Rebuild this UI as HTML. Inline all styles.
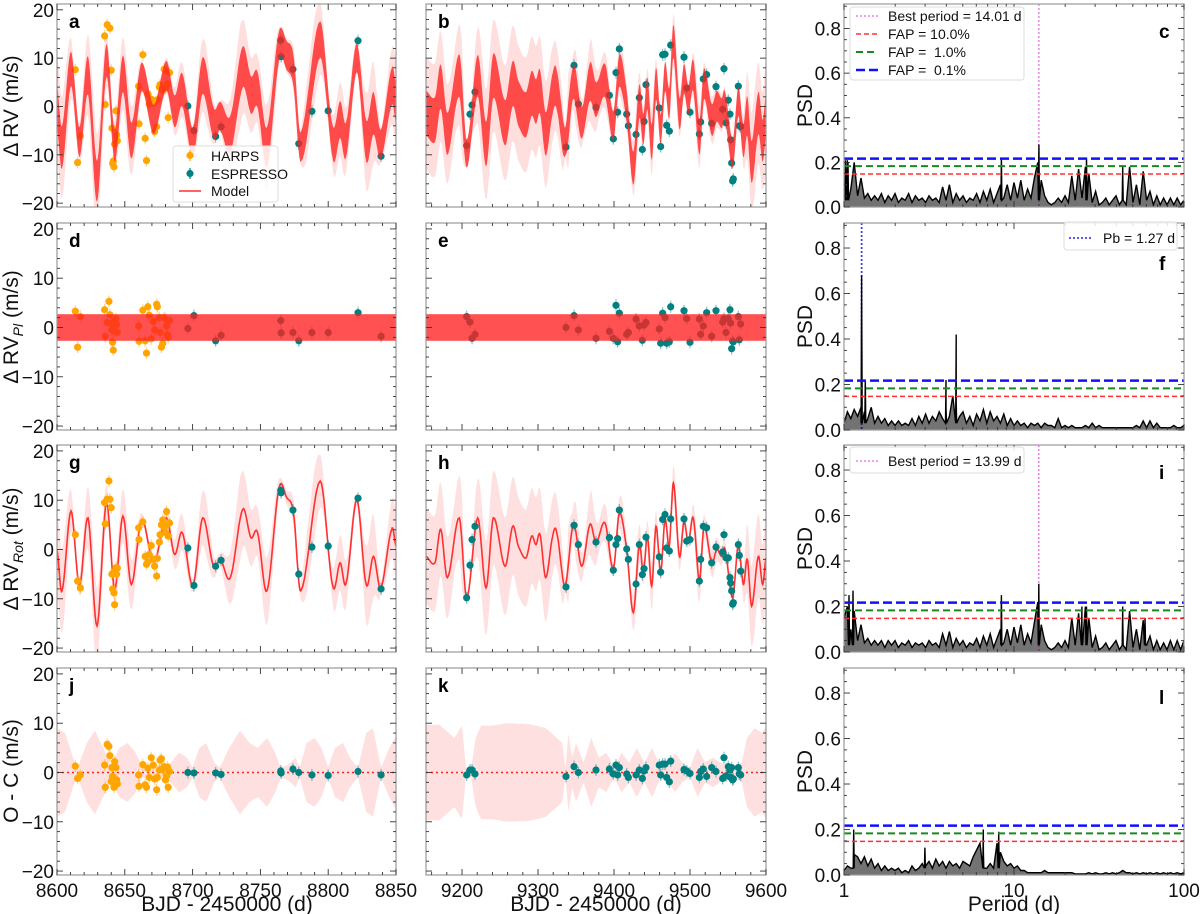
<!DOCTYPE html>
<html><head><meta charset="utf-8">
<style>
html,body{margin:0;padding:0;background:#fff;}
svg{display:block;font-family:"Liberation Sans",sans-serif;}
text{white-space:pre;}
</style></head>
<body>
<svg id="fig" width="1200" height="914" viewBox="0 0 1200 914" xmlns="http://www.w3.org/2000/svg"></svg>
<script>
// ---------- DATA ----------
const rot1T=[8600,8603.7,8610.3,8616.5,8622.9,8629.5,8636.4,8642.5,8648.6,8654.8,8662.4,8671.3,8680.6,8686.7,8692.4,8700.2,8707.4,8715.5,8720.4,8727.8,8736.9,8743,8747.9,8754.8,8763.6,8769.5,8774.4,8779.8,8794.1,8803.4,8808.8,8813.2,8821.1,8828,8833.4,8838.8,8846.9,8850];
const rot1V=[0,-8.4,7.8,-7.4,6.4,-15.5,9.5,-8.1,6.8,-7.1,6.1,-2.7,6.4,-1,3.4,-7.4,6.4,-3.4,-2,-5.7,8.1,2.4,3.4,-8.4,12.2,10.5,7.4,-8.4,13.9,-7.4,-2.7,-6.8,10.1,-7.1,-1.4,-7.8,4.1,0.7];
const rot2T=[9152.6,9164.5,9172,9180.7,9196.5,9206.1,9220.6,9231.6,9241.2,9256.6,9266.7,9274,9284.2,9291.7,9297.4,9302.6,9310.1,9319.3,9324.6,9335.5,9346.5,9357.5,9368.4,9376.3,9388.2,9399.1,9407,9416.7,9425.4,9433.3,9438.6,9443.9,9449.6,9455.3,9461.4,9467.1,9472.8,9478.1,9486,9492.1,9497.8,9504.4,9512.3,9518.4,9528.5,9535.1,9541.7,9546,9556.1,9563.6,9570.2,9575.4,9581.1,9589.9,9595.6,9600];
const rot2V=[-1.4,-2.7,4.1,-5.7,6.4,-9.8,6.4,-7.8,6.4,-3.4,4.7,0.7,-1.7,2.7,1,3,-5.7,2.7,3.4,-7.4,5.1,-3.4,5.1,1.4,5.4,-4,7.4,0,-12.8,1,-4.7,2.7,-7.4,4.7,-4.7,6.1,0.7,13.5,-1.4,5.7,1.4,6.4,-6.4,4.7,-2.7,0,-1.4,0,-9.8,1,-7.1,-2,-11.5,-1.4,-7.1,-1.7];
const band1T=[8600,8606,8613,8616,8622,8628,8634,8640,8646,8652,8658,8663,8670,8678,8684,8690,8696,8700,8705,8710,8716,8720,8727,8735,8742,8748,8755,8761,8765,8770,8776,8779,8784,8790,8795,8800,8805,8811,8816,8822,8828,8833,8839,8845,8850];
const band1W=[9,8,2,1.5,6,8.5,5,1.5,5,6,4,1,1.5,1.5,2,4,3,1,5,6,2,1,5,8.5,6,5,7,4,1,1.5,3,1,6,7,5,1,5,6,3,1,8,9,1,5,7.5];
const band2T=[9153,9170,9190,9200,9205,9212,9218,9225,9240,9260,9290,9310,9325,9332,9336,9340,9345,9350,9360,9370,9380,9390,9400,9410,9420,9430,9440,9450,9460,9470,9480,9490,9500,9510,9520,9530,9540,9550,9560,9568,9575,9585,9595,9600];
const band2W=[9.7,9.7,7,9.5,1,1,7,9.5,9.5,10,9.8,9,7,6,0.5,8,3,6,2,7,3,4,1,4,2,5,2,5,1.5,1.5,4,2,1,5,2,3,2,1.5,1,2,7,9,8,9.5];
const plAmp=2.7;
const harpsT=[8613.5,8615.2,8617.2,8635.1,8635.6,8637,8638.3,8639,8640,8640.5,8641,8641.5,8642,8642.5,8643.5,8644,8644.5,8660.2,8660.5,8663.3,8665,8666,8667,8668,8669.5,8671,8672,8673.5,8674,8675.5,8676,8677,8678,8679,8680,8680.8,8681.5,8682,8683];
const harpsRot=[3,-6.4,-7.8,9.5,5.2,10.2,13.9,10.2,8.5,-5,-8,-4.7,-8.8,-11.2,-3.7,-5,-3.8,4.4,2,5.6,-1.4,-3,-2.5,-1,0.8,-2,-3.4,-5.4,-1.8,1.5,3,5,6,4.5,3.4,7.7,5.1,2.7,5.4];
const harpsPl=[3.3,-4,2.2,3.6,-1.8,1,5.3,2.6,0.8,-0.5,-3,-4.6,-0.7,1.2,1.8,0.6,-1,0.3,-2.8,3.5,-2.7,-5.2,4.2,2.5,-2.3,1.2,-0.5,4.7,4.2,2,-1,-4,-3.2,2,1.8,0.3,-1.5,-2,1.4];
const harpsRes=[1.3,-1.2,-0.5,1.5,-3,5.7,5.3,3.4,-1.8,1,-0.8,-2,-3,2.2,1,-1.5,-2.3,-0.5,-2.8,1.6,-2.5,-3,0.9,-1,3,1.5,-1.3,-3.5,-1,0.5,2.5,2.8,0.6,1.2,-1.5,-0.7,1.1,-3,0.2];
const esp1T=[8696.5,8701,8717,8721,8765,8765.3,8774,8778.3,8788,8800,8822,8839];
const esp1Rot=[0.3,-7.3,-3.4,-2.2,12,11.5,8,-5,0.5,0.7,10.4,-8];
const esp1Pl=[-0.2,2.4,-2.7,-1.6,1.4,-1.1,-1,-2.7,-1,-1,3,-1.8];
const esp1Res=[0,-0.1,-0.1,-0.4,0.3,-0.1,0.7,0,-0.5,-0.6,0.2,-0.5];
const esp2T=[9206.1,9210.5,9213.2,9217.1,9336.8,9347.4,9353.1,9376.3,9393.9,9399.1,9402.6,9404.8,9407,9416.7,9418.9,9429,9433.3,9437.3,9439.5,9442.1,9459.6,9461.4,9464,9467.1,9469.3,9472.8,9474.6,9492.1,9495.6,9500,9512.3,9514,9517.5,9521.9,9528.5,9534.2,9543,9544.7,9547.4,9550.4,9552.6,9553.5,9554.8,9556.1,9557,9563.6,9564.9,9566.7];
const esp2Rot=[-9.8,-3.2,2,4.7,-7.6,4.9,1,1.5,2.4,-4.2,1,2.2,8,0.1,-2,-7,1,-5.1,-3.9,2.5,-1.5,-4.6,6.1,7.1,0.3,-0.3,6.2,6.2,1.7,2,-6.4,-2,4.7,4.4,-2.7,0.5,-0.5,3,-1.7,-1.7,-5.7,-6.8,-8.4,-11.1,-10.8,1,-1.2,-4.4];
const esp2Pl=[2.2,1.1,-2.2,-1.4,0,2.4,-0.5,-2.2,-0.8,-2.2,4.5,-2.9,2.9,-1.4,-1,1.7,0.3,-2.6,0.5,1,-0.3,-3.2,2.9,2,-3.2,-2.9,4.2,3.4,1.8,-3,1.7,-1.4,0.3,3,-1.8,3.4,1.1,1.8,-1,1.8,3.6,0.9,-4.3,-2.8,-2.9,2.2,-2.5,0.7];
const esp2Res=[-0.5,0.5,0.5,-0.3,-0.8,1.2,0,0.5,0.7,-0.3,1.5,-0.5,1,-0.3,-1,-0.5,0.5,-1.2,0.3,1,1.5,-0.5,1.7,1.7,-1,-1.9,2.3,0.6,0.3,-0.2,-1,0.2,0.7,-0.8,1,0.2,-1.2,3,-0.7,1.2,0.5,-1,1,-1.5,-1.3,1,-0.3,-0.5];
const psdC=[0.12,0.21,0.08,0.20,0.05,0.13,0.04,0.06,0.03,0.05,0.03,0.06,0.02,0.05,0.03,0.06,0.02,0.04,0.03,0.06,0.02,0.05,0.03,0.04,0.02,0.05,0.03,0.04,0.02,0.09,0.03,0.10,0.02,0.06,0.03,0.05,0.02,0.04,0.03,0.06,0.02,0.07,0.03,0.08,0.02,0.06,0.10,0.04,0.10,0.03,0.11,0.04,0.12,0.03,0.08,0.04,0.13,0.20,0.12,0.05,0.02,0.01,0.02,0.04,0.02,0.05,0.02,0.14,0.03,0.17,0.04,0.18,0.15,0.02,0.07,0.01,0.02,0.04,0.01,0.03,0.05,0.01,0.13,0.01,0.18,0.02,0.10,0.01,0.16,0.03,0.07,0.01,0.05,0.01,0.04,0.01,0.04,0.01,0.04,0.01,0.03];
const peaksCP=[1.02,1.055,8.43,14.01,26.7,43.6];
const peaksCV=[0.21,0.20,0.22,0.28,0.22,0.18];
const psdF=[0.03,0.08,0.05,0.09,0.06,0.10,0.08,0.05,0.10,0.03,0.06,0.03,0.05,0.02,0.04,0.02,0.04,0.02,0.03,0.02,0.05,0.02,0.06,0.03,0.07,0.03,0.06,0.04,0.08,0.05,0.10,0.06,0.15,0.12,0.06,0.08,0.03,0.06,0.02,0.07,0.04,0.09,0.03,0.08,0.04,0.06,0.03,0.07,0.02,0.05,0.02,0.04,0.02,0.03,0.01,0.03,0.02,0.03,0.01,0.03,0.02,0.02,0.01,0.05,0.01,0.02,0.01,0.02,0.01,0.01,0.01,0.02,0.01,0.03,0.01,0.02,0.01,0.01,0.01,0.01,0.01,0.01,0.01,0.01,0.01,0.01,0.02,0.01,0.04,0.01,0.04,0.01,0.03,0.01,0.01,0.01,0.01,0.02,0.01,0.01,0.02];
const peaksFP=[1.27,1.334,3.98,4.57];
const peaksFV=[0.68,0.22,0.22,0.42];
const psdI=[0.15,0.20,0.10,0.18,0.05,0.12,0.04,0.06,0.03,0.05,0.03,0.05,0.02,0.05,0.03,0.05,0.02,0.04,0.03,0.05,0.02,0.04,0.03,0.04,0.02,0.05,0.03,0.04,0.02,0.08,0.03,0.09,0.02,0.06,0.03,0.05,0.02,0.04,0.03,0.06,0.02,0.07,0.03,0.08,0.02,0.06,0.10,0.04,0.10,0.03,0.11,0.04,0.12,0.03,0.08,0.04,0.13,0.22,0.12,0.05,0.02,0.01,0.02,0.04,0.02,0.05,0.02,0.15,0.03,0.17,0.04,0.20,0.15,0.02,0.07,0.01,0.02,0.04,0.01,0.03,0.05,0.01,0.13,0.01,0.18,0.02,0.10,0.01,0.14,0.03,0.07,0.01,0.05,0.01,0.04,0.01,0.05,0.01,0.05,0.01,0.05];
const peaksIP=[1.07,1.13,8.43,13.99,25.1,26.7,43.6,59];
const peaksIV=[0.25,0.27,0.25,0.30,0.20,0.20,0.20,0.15];
const psdL=[0.02,0.04,0.03,0.09,0.08,0.05,0.08,0.04,0.07,0.03,0.05,0.02,0.04,0.02,0.03,0.02,0.03,0.01,0.02,0.01,0.04,0.02,0.03,0.05,0.04,0.06,0.03,0.07,0.04,0.06,0.03,0.06,0.04,0.05,0.03,0.06,0.05,0.04,0.08,0.11,0.14,0.10,0.03,0.05,0.03,0.14,0.10,0.06,0.04,0.05,0.03,0.04,0.02,0.02,0.01,0.01,0.01,0.01,0.01,0.02,0.01,0.01,0.01,0.01,0.01,0.01,0.01,0.01,0.005,0.005,0.005,0.005,0.01,0.005,0.01,0.005,0.005,0.01,0.005,0.01,0.005,0.01,0.02,0.01,0.01,0.005,0.01,0.005,0.01,0.005,0.01,0.005,0.01,0.005,0.01,0.005,0.01,0.005,0.01,0.005,0.01];
const peaksLP=[1.14,2.99,6.6,8.13];
const peaksLV=[0.20,0.12,0.20,0.19];
const fapLevels=[0.148,0.183,0.217];
const bestPeriodC=14.01, bestPeriodI=13.99, planetPeriod=1.27;

// ---------- LAYOUT ----------
const NS="http://www.w3.org/2000/svg";
const svg=document.getElementById('fig');
const COLS=[{x0:57,x1:396,d0:8600,d1:8850},{x0:426,x1:766,d0:9152.6,d1:9600},{x0:844,x1:1184}];
const ROWS=[{y0:4,y1:207},{y0:223,y1:430},{y0:445,y1:652},{y0:668,y1:875}];
const YMIN=-20.8,YMAX=21.2,PMAX=0.91;
function mk(tag,attrs,parent){const e=document.createElementNS(NS,tag);for(const k in attrs)e.setAttribute(k,attrs[k]);(parent||svg).appendChild(e);return e;}
function xs(c,t){const C=COLS[c];if(c===2)return C.x0+Math.log10(t)/2*(C.x1-C.x0);return C.x0+(t-C.d0)/(C.d1-C.d0)*(C.x1-C.x0);}
function xsLog(c,l){const C=COLS[c];return C.x0+l/2*(C.x1-C.x0);}
function ys(r,v){const R=ROWS[r];return R.y1-(v-YMIN)/(YMAX-YMIN)*(R.y1-R.y0);}
function yp(r,p){const R=ROWS[r];return R.y1-p/PMAX*(R.y1-R.y0);}
function interp(T,W,t){if(t<=T[0])return W[0];for(let i=1;i<T.length;i++){if(t<=T[i]){const f=(t-T[i-1])/(T[i]-T[i-1]);return W[i-1]+f*(W[i]-W[i-1]);}}return W[W.length-1];}
function spline(T,V){const out=[];const n=T.length;for(let i=0;i<n-1;i++){const p0=V[Math.max(0,i-1)],p1=V[i],p2=V[i+1],p3=V[Math.min(n-1,i+2)];for(let k=0;k<10;k++){const s=k/10;const s2=s*s,s3=s2*s;const v=0.5*((2*p1)+(-p0+p2)*s+(2*p0-5*p1+4*p2-p3)*s2+(-p0+3*p1-3*p2+p3)*s3);out.push([T[i]+s*(T[i+1]-T[i]),v]);}}out.push([T[n-1],V[n-1]]);return out;}

let clipId=0;
function panelGroup(r,c,name){
  const C=COLS[c],R=ROWS[r];
  const id='clip'+(clipId++);
  const cp=mk('clipPath',{id:id});mk('rect',{x:C.x0,y:R.y0,width:C.x1-C.x0,height:R.y1-R.y0},cp);
  const g=mk('g',{'clip-path':'url(#'+id+')'});
  
  
  return g;
}
const letterOffsetRight=[34,47,34,36];
function frame(r,c,letter,letterRight){
  const C=COLS[c],R=ROWS[r];
  const g=mk('g',{});
  
  
  mk('rect',{x:C.x0,y:R.y0,width:C.x1-C.x0,height:R.y1-R.y0,fill:'none',stroke:'#999','stroke-width':1.2},g);
  const tk=(x1,y1,x2,y2)=>mk('line',{x1,y1,x2,y2,stroke:'#333','stroke-width':0.9},g);
  if(c<2){
    const step=c===0?10:20, maj=c===0?50:100;
    const start=Math.ceil(C.d0/step)*step;
    for(let t=start;t<=C.d1+0.01;t+=step){const x=xs(c,t);const L=(t%maj===0)?6:3;tk(x,R.y1,x,R.y1-L);tk(x,R.y0,x,R.y0+L);
      if(r===3&&t%maj===0){const tx=mk('text',{x:x,y:897,'font-size':19,'text-anchor':'middle',fill:'#111'},g);tx.textContent=t;}}
    for(let v=-20;v<=20;v+=2){const y=ys(r,v);const L=(v%10===0)?6:3;tk(C.x0,y,C.x0+L,y);tk(C.x1,y,C.x1-L,y);
      if(c===0&&v%10===0){const tx=mk('text',{x:C.x0-3,y:y+7,'font-size':19,'text-anchor':'end',fill:'#111'},g);tx.textContent=(v<0?'\u2212':'')+Math.abs(v);}}
  } else {
    for(let d=0;d<2;d++){for(let m=1;m<=9;m++){const l=d+Math.log10(m);const x=xsLog(c,l);const L=m===1?6:3;tk(x,R.y1,x,R.y1-L);tk(x,R.y0,x,R.y0+L);}}
    tk(C.x1,R.y1,C.x1,R.y1-6);tk(C.x1,R.y0,C.x1,R.y0+6);
    if(r===3){[['1',0],['10',1],['100',2]].forEach(([s,l])=>{const tx=mk('text',{x:xsLog(c,l),y:897,'font-size':19,'text-anchor':'middle',fill:'#111'},g);tx.textContent=s;});}
    for(let i=0;i<=18;i++){const p=i*0.05;const y=yp(r,p);if(y<R.y0)continue;const L=(i%4===0)?6:3;tk(C.x0,y,C.x0+L,y);tk(C.x1,y,C.x1-L,y);
      if(i%4===0){const tx=mk('text',{x:C.x0-3,y:y+7,'font-size':19,'text-anchor':'end',fill:'#111'},g);tx.textContent=p.toFixed(1);}}
  }
  const lt=mk('text',{x:letterRight?C.x1-25:C.x0+12,y:letterRight?R.y0+letterOffsetRight[r]:R.y0+24,'font-size':19,'font-weight':'bold',fill:'#000'},g);
  lt.textContent=letter;
  
  
}
function bandPath(c,r,pts,lo,hi){let d='';pts.forEach((p,i)=>{d+=(i?'L':'M')+xs(c,p[0]).toFixed(1)+','+ys(r,hi(p)).toFixed(1);});for(let i=pts.length-1;i>=0;i--){const p=pts[i];d+='L'+xs(c,p[0]).toFixed(1)+','+ys(r,lo(p)).toFixed(1);}return d+'Z';}
function linePath(c,r,pts){return pts.map((p,i)=>(i?'L':'M')+xs(c,p[0]).toFixed(1)+','+ys(r,p[1]).toFixed(1)).join('');}
function points(g,c,r,T,V,color,name){
  T.forEach((t,i)=>{
    const x=xs(c,t),y=ys(r,V[i]);
    const eb=mk('line',{x1:x,y1:y-6,x2:x,y2:y+6,stroke:color,'stroke-opacity':0.45,'stroke-width':1.3},g);
    
    
    const ci=mk('circle',{cx:x,cy:y,r:3.6,fill:color},g);
    
    
  });
}
function sum3(a,b,c){return a.map((v,i)=>v+b[i]+c[i]);}
const ORANGE='#ffa500',TEAL='#008080';
const rotData=[[rot1T,rot1V,band1T,band1W],[rot2T,rot2V,band2T,band2W]];
const pts=[[['harps',harpsT,harpsRot,harpsPl,harpsRes,ORANGE],['espresso',esp1T,esp1Rot,esp1Pl,esp1Res,TEAL]],[['espresso',esp2T,esp2Rot,esp2Pl,esp2Res,TEAL]]];
const letters=[['a','b','c'],['d','e','f'],['g','h','i'],['j','k','l']];

for(let c=0;c<2;c++){
  const [RT,RV,BT,BW]=rotData[c];
  const curve=spline(RT,RV);
  const w=p=>interp(BT,BW,p[0]);
  let g=panelGroup(0,c,'panel-'+letters[0][c]+'-plot');
  let e=mk('path',{d:bandPath(c,0,curve,p=>p[1]-w(p)-2,p=>p[1]+w(p)+2),fill:'#ffdede'},g);
  
  pts[c].forEach(s=>points(g,c,0,s[1],sum3(s[2],s[3],s[4]),s[5],s[0]));
  e=mk('path',{d:bandPath(c,0,curve,p=>p[1]-plAmp-0.2*w(p),p=>p[1]+plAmp+0.2*w(p)),fill:'#ff2020','fill-opacity':0.78},g);
  
  g=panelGroup(1,c,'panel-'+letters[1][c]+'-plot');
  pts[c].forEach(s=>points(g,c,1,s[1],s[3],s[5],s[0]));
  e=mk('rect',{x:COLS[c].x0,y:ys(1,plAmp),width:COLS[c].x1-COLS[c].x0,height:ys(1,-plAmp)-ys(1,plAmp),fill:'#ff2020','fill-opacity':0.78},g);
  
  g=panelGroup(2,c,'panel-'+letters[2][c]+'-plot');
  e=mk('path',{d:bandPath(c,2,curve,p=>p[1]-w(p),p=>p[1]+w(p)),fill:'#ffe0e0'},g);
  
  e=mk('path',{d:linePath(c,2,curve),fill:'none',stroke:'#ff3030','stroke-width':1.6},g);
  
  pts[c].forEach(s=>points(g,c,2,s[1],s[2],s[5],s[0]));
  g=panelGroup(3,c,'panel-'+letters[3][c]+'-plot');
  e=mk('path',{d:bandPath(c,3,curve,p=>-w(p),p=>w(p)),fill:'#ffe0e0'},g);
  
  e=mk('line',{x1:COLS[c].x0,x2:COLS[c].x1,y1:ys(3,0),y2:ys(3,0),stroke:'#ff2020','stroke-width':1.5,'stroke-dasharray':'2,3'},g);
  
  pts[c].forEach(s=>points(g,c,3,s[1],s[4],s[5],s[0]));
  for(let r=0;r<4;r++)frame(r,c,letters[r][c],false);
}
const psdSets=[[psdC,peaksCP,peaksCV],[psdF,peaksFP,peaksFV],[psdI,peaksIP,peaksIV],[psdL,peaksLP,peaksLV]];
for(let r=0;r<4;r++){
  const [V,PP,PV]=psdSets[r];
  const g=panelGroup(r,2,'panel-'+letters[r][2]+'-periodogram');
  const arr=V.map((v,i)=>[i*0.02,v]);
  PP.forEach((p,i)=>{const l=Math.log10(p);arr.push([l-0.003,0.03]);arr.push([l,PV[i]]);arr.push([l+0.003,0.03]);});
  arr.sort((a,b)=>a[0]-b[0]);
  const d=arr.map((a,i)=>(i?'L':'M')+xsLog(2,a[0]).toFixed(1)+','+yp(r,a[1]).toFixed(1)).join('');
  const fapCols=['#ff3030','#1a8a1a','#1010ff'],fapDash=['5,3','7,4','9,4'],fapW=[1.5,2,2.5];
  if(r===0||r===2){const bp=r===0?bestPeriodC:bestPeriodI;const x=xs(2,bp);const e=mk('line',{x1:x,x2:x,y1:ROWS[r].y0,y2:ROWS[r].y1,stroke:'#ee82ee','stroke-width':1.5,'stroke-dasharray':'2,2'},g);}
  if(r===1){const x=xs(2,planetPeriod);const e=mk('line',{x1:x,x2:x,y1:ROWS[r].y0,y2:ROWS[r].y1,stroke:'#4040ff','stroke-width':1.8,'stroke-dasharray':'2,2'},g);}
  const base=yp(r,0).toFixed(1);
  const fa=mk('path',{d:d+'L'+COLS[2].x1+','+base+'L'+COLS[2].x0+','+base+'Z',fill:'#000','fill-opacity':0.55,stroke:'none'},g);
  
  const pe=mk('path',{d:d,fill:'none',stroke:'#000','stroke-width':1.4},g);
  
  fapLevels.forEach((f,i)=>{const y=yp(r,f);const e=mk('line',{x1:COLS[2].x0,x2:COLS[2].x1,y1:y,y2:y,stroke:fapCols[i],'stroke-width':fapW[i],'stroke-dasharray':fapDash[i]},g);});
  frame(r,2,letters[r][2],true);
}
function ytitle(x,y,html,name){const t=mk('text',{x:x,y:y,'font-size':21,'text-anchor':'middle',fill:'#111',transform:'rotate(-90 '+x+' '+y+')'});t.innerHTML=html;}
ytitle(18,106,'Δ RV (m/s)','y-axis-title-total');
ytitle(18,327,'Δ RV<tspan font-size="14" font-style="italic" dy="5">Pl</tspan><tspan dy="-5"> (m/s)</tspan>','y-axis-title-planet');
ytitle(18,549,'Δ RV<tspan font-size="14" font-style="italic" dy="5">Rot</tspan><tspan dy="-5"> (m/s)</tspan>','y-axis-title-rotation');
ytitle(18,771,'O - C (m/s)','y-axis-title-residuals');
for(let r=0;r<4;r++)ytitle(812,(ROWS[r].y0+ROWS[r].y1)/2,'PSD','y-axis-title-psd');
function xt(x,s,name){const t=mk('text',{x:x,y:911,'font-size':21,'text-anchor':'middle',fill:'#111'});t.textContent=s;}
xt(227,'BJD - 2450000 (d)','x-axis-title-season1');xt(596,'BJD - 2450000 (d)','x-axis-title-season2');xt(1014,'Period (d)','x-axis-title-period');
function legendBox(x,y,w,h,name){const g=mk('g',{});mk('rect',{x,y,width:w,height:h,rx:3,fill:'#fff','fill-opacity':0.85,stroke:'#ddd'},g);return g;}
function ltext(g,x,y,s){const t=mk('text',{x,y,'font-size':14,fill:'#111'},g);t.textContent=s;}
let lg=legendBox(173,146,105,56,'legend-rv');
mk('line',{x1:190,x2:190,y1:150,y2:161,stroke:ORANGE,'stroke-width':1.2},lg);mk('circle',{cx:190,cy:155.5,r:3.6,fill:ORANGE},lg);ltext(lg,211,161,'HARPS');
mk('line',{x1:190,x2:190,y1:168,y2:179,stroke:TEAL,'stroke-width':1.2},lg);mk('circle',{cx:190,cy:173.5,r:3.6,fill:TEAL},lg);ltext(lg,211,179,'ESPRESSO');
mk('line',{x1:179,x2:201,y1:191,y2:191,stroke:'#ff3030','stroke-width':1.6},lg);ltext(lg,211,196,'Model');
lg=legendBox(850,7,174,73,'legend-periodogram-c');
mk('line',{x1:856,x2:878,y1:16,y2:16,stroke:'#ee82ee','stroke-width':1.5,'stroke-dasharray':'2,2'},lg);ltext(lg,888,21,'Best period = 14.01 d');
mk('line',{x1:856,x2:878,y1:34,y2:34,stroke:'#ff3030','stroke-width':1.5,'stroke-dasharray':'5,3'},lg);ltext(lg,888,39,'FAP = 10.0%');
mk('line',{x1:856,x2:878,y1:52,y2:52,stroke:'#1a8a1a','stroke-width':2,'stroke-dasharray':'7,4'},lg);ltext(lg,888,57,'FAP =  1.0%');
mk('line',{x1:856,x2:878,y1:70,y2:70,stroke:'#1010ff','stroke-width':2.5,'stroke-dasharray':'9,4'},lg);ltext(lg,888,75,'FAP =  0.1%');
lg=legendBox(1064,222,113,28,'legend-periodogram-f');
mk('line',{x1:1069,x2:1093,y1:238,y2:238,stroke:'#4040ff','stroke-width':1.8,'stroke-dasharray':'2,2'},lg);ltext(lg,1103,243,'Pb = 1.27 d');
lg=legendBox(850,447,174,26,'legend-periodogram-i');
mk('line',{x1:856,x2:878,y1:461,y2:461,stroke:'#ee82ee','stroke-width':1.5,'stroke-dasharray':'2,2'},lg);ltext(lg,888,466,'Best period = 13.99 d');
</script>
</body></html>
